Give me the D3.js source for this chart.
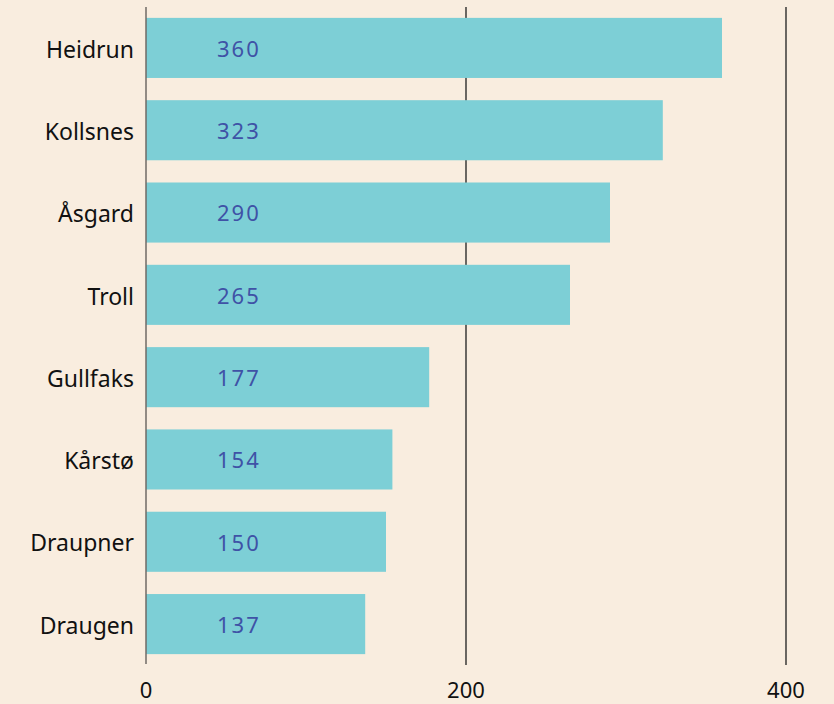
<!DOCTYPE html>
<html>
<head>
<meta charset="utf-8">
<script src="https://cdn.jsdelivr.net/npm/d3@7"></script>
<style>
  body { margin: 0; background: #f9eddf; }
  svg { display: block; font-family: "Noto Sans", sans-serif; }
</style>
</head>
<body>
<svg id="chart" width="834" height="704"></svg>
<script>
var categories = ["Heidrun", "Kollsnes", "Åsgard", "Troll", "Gullfaks", "Kårstø", "Draupner", "Draugen"];
var values = [360, 323, 290, 265, 177, 154, 150, 137];
var ticks = [0, 200, 400];

var svg = d3.select("#chart");
var data = categories.map(function(c, i) { return { name: c, value: values[i] }; });

var x = d3.scaleLinear().domain([0, 400]).range([146, 786]);
var y = d3.scaleBand().domain(categories).range([8, 664]).paddingInner(0.27).paddingOuter(0.12);

svg.append("rect").attr("width", 834).attr("height", 704).attr("fill", "#f9eddf");

// gridlines
svg.append("g").selectAll("line")
    .data(ticks.slice(1))
    .enter().append("line")
    .attr("x1", function(d) { return x(d); })
    .attr("x2", function(d) { return x(d); })
    .attr("y1", 7)
    .attr("y2", 665)
    .attr("stroke", "#1e1e1e")
    .attr("stroke-width", 1.3);

svg.append("g").selectAll("rect")
    .data(data)
    .enter().append("rect")
    .attr("x", x(0))
    .attr("y", function(d) { return y(d.name); })
    .attr("width", function(d) { return x(d.value) - x(0); })
    .attr("height", y.bandwidth())
    .attr("fill", "#7dcfd6");

// zero line
svg.append("line")
    .attr("x1", x(0)).attr("x2", x(0))
    .attr("y1", 7).attr("y2", 664)
    .attr("stroke", "#6f6a66")
    .attr("stroke-width", 1.5);

svg.append("g").selectAll("text")
    .data(data)
    .enter().append("text")
    .attr("x", x(0) + 71)
    .attr("y", function(d) { return y(d.name) + y.bandwidth() / 2; })
    .attr("dy", "0.4em")
    .attr("fill", "#3f52a6")
    .attr("font-size", 22)
    .attr("letter-spacing", 2)
    .text(function(d) { return d.value; });

svg.append("g").selectAll("text")
    .data(data)
    .enter().append("text")
    .attr("x", 134)
    .attr("y", function(d) { return y(d.name) + y.bandwidth() / 2; })
    .attr("dy", "0.42em")
    .attr("text-anchor", "end")
    .attr("fill", "#111")
    .attr("font-size", 23)
    .text(function(d) { return d.name; });

svg.append("g").selectAll("text")
    .data(ticks)
    .enter().append("text")
    .attr("x", function(d) { return x(d); })
    .attr("y", 698)
    .attr("text-anchor", "middle")
    .attr("fill", "#111")
    .attr("font-size", 22)
    .text(function(d) { return d; });
</script>
</body>
</html>
